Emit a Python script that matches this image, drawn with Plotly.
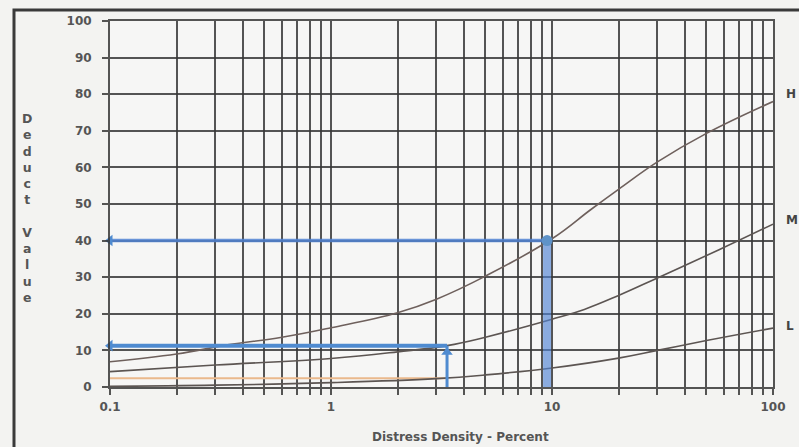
import plotly.graph_objects as go

# Deduct curves for three severity levels (x = distress density %, y = deduct value)
h_density = [0.1, 0.2, 0.34, 0.6, 1, 2, 3, 5, 10, 15, 20, 30, 50, 100]
h_deduct = [6.9, 9.0, 11.5, 13.6, 16.2, 20.3, 24.0, 30.3, 40.5, 48.5, 54.0, 61.5, 69.3, 78.0]

m_density = [0.1, 0.3, 1, 2, 3.35, 5, 10, 14, 20, 30, 57, 100]
m_deduct = [4.2, 6.0, 7.8, 9.6, 11.3, 13.6, 18.5, 21.2, 25.0, 29.8, 37.5, 44.5]

l_density = [0.1, 0.3, 1, 3, 5, 10, 20, 30, 50, 100]
l_deduct = [0.2, 0.5, 1.2, 2.3, 3.3, 5.2, 7.9, 10.0, 12.7, 16.1]

# Worked readings
read_high_density = 9.5
read_high_deduct = 40
read_med_density = 3.35
read_med_deduct = 11.3
read_low_deduct = 2.4

x_tick_vals = [0.1, 1, 10, 100]
x_tick_text = ["0.1", "1", "10", "100"]
y_tick_vals = [0, 10, 20, 30, 40, 50, 60, 70, 80, 90, 100]
minor_x = [m * 10 ** e for e in (-1, 0, 1) for m in range(2, 10)]

severity_labels = ["H", "M", "L"]
severity_label_y = [80, 45.5, 16.7]

GRID = "rgba(55,55,55,0.85)"
CURVE = "#5c5552"
BLUE = "#4f8bd0"
TEXT = "#555555"

fig = go.Figure()

# orange reading line for the low curve
fig.add_trace(go.Scatter(x=[0.1, read_med_density], y=[read_low_deduct, read_low_deduct],
                         mode="lines", line=dict(color="#eab98c", width=2),
                         hoverinfo="skip", showlegend=False))

for xs, ys, col in ((h_density, h_deduct, "#6e605c"), (m_density, m_deduct, CURVE),
                    (l_density, l_deduct, CURVE)):
    fig.add_trace(go.Scatter(x=xs, y=ys, mode="lines",
                             line=dict(color=col, width=1.6, shape="spline", smoothing=1.2),
                             hoverinfo="skip", showlegend=False))

# high-severity reading: vertical band up to curve, then across to axis
fig.add_trace(go.Scatter(x=[read_high_density, read_high_density], y=[0, read_high_deduct],
                         mode="lines", line=dict(color="rgba(80,130,210,0.65)", width=8),
                         hoverinfo="skip", showlegend=False))
fig.add_trace(go.Scatter(x=[0.1, read_high_density], y=[read_high_deduct, read_high_deduct],
                         mode="lines", line=dict(color="rgba(80,130,210,0.85)", width=3.5),
                         hoverinfo="skip", showlegend=False))
fig.add_trace(go.Scatter(x=[read_high_density], y=[read_high_deduct], mode="markers",
                         marker=dict(color="#5f93c8", size=11),
                         hoverinfo="skip", showlegend=False))

# medium-severity reading
fig.add_trace(go.Scatter(x=[read_med_density, read_med_density], y=[0, read_med_deduct],
                         mode="lines", line=dict(color=BLUE, width=3),
                         hoverinfo="skip", showlegend=False))
fig.add_trace(go.Scatter(x=[0.1, read_med_density], y=[read_med_deduct, read_med_deduct],
                         mode="lines", line=dict(color=BLUE, width=4),
                         hoverinfo="skip", showlegend=False))
fig.add_trace(go.Scatter(x=[read_med_density], y=[read_med_deduct - 1.8], mode="markers",
                         marker=dict(color=BLUE, size=10, symbol="triangle-up"),
                         hoverinfo="skip", showlegend=False))
fig.add_trace(go.Scatter(x=[0.1, 0.1], y=[read_high_deduct, read_med_deduct], mode="markers",
                         marker=dict(color=BLUE, size=10, symbol="triangle-left"),
                         cliponaxis=False, hoverinfo="skip", showlegend=False))

axis_font = dict(family="DejaVu Sans", size=12, color=TEXT, weight="bold")

fig.update_xaxes(type="log", range=[-1, 2], tickvals=x_tick_vals, ticktext=x_tick_text,
                 showgrid=True, gridcolor=GRID, gridwidth=2,
                 ticks="outside", ticklen=6, tickwidth=2, tickcolor=GRID,
                 minor=dict(tickvals=minor_x, showgrid=True, gridcolor=GRID, gridwidth=2,
                            ticks="outside", ticklen=6, tickwidth=2, tickcolor=GRID),
                 showline=True, linecolor=GRID, linewidth=2, mirror=True,
                 zeroline=False, tickfont=axis_font, ticklabelstandoff=2)
fig.update_yaxes(range=[0, 100], tickvals=y_tick_vals,
                 showgrid=True, gridcolor=GRID, gridwidth=1.6,
                 ticks="outside", ticklen=6, tickwidth=1.6, tickcolor=GRID,
                 showline=True, linecolor=GRID, linewidth=2, mirror=True,
                 zeroline=False, tickfont=axis_font, ticklabelstandoff=8)

annotations = [
    dict(text="Distress Density - Percent", xref="paper", yref="paper",
         x=0.529, y=-0.137, showarrow=False, xanchor="center", yanchor="middle",
         font=dict(family="DejaVu Sans", size=12, color=TEXT, weight="bold")),
    dict(text="<br>".join(list("Deduct")) + "<br><br>" + "<br>".join(list("Value")),
         xref="paper", yref="paper", x=-0.125, y=0.49, showarrow=False,
         xanchor="center", yanchor="middle",
         font=dict(family="DejaVu Sans", size=12.5, color=TEXT, weight="bold")),
]
for lab, yv in zip(severity_labels, severity_label_y):
    annotations.append(dict(text=lab, xref="paper", yref="y", x=1.016, y=yv,
                            showarrow=False, xanchor="left", yanchor="middle",
                            font=dict(family="DejaVu Sans", size=12, color="#444444",
                                      weight="bold")))

fig.update_layout(
    width=799, height=447,
    margin=dict(l=110, r=26, t=21, b=60),
    paper_bgcolor="#f3f3f1",
    plot_bgcolor="#f6f6f5",
    annotations=annotations,
    shapes=[dict(type="rect", xref="paper", yref="paper",
                 x0=-0.1448, x1=1.3, y0=-0.3, y1=1.030,
                 line=dict(color="#3a3a3a", width=3), layer="below")],
)

fig.write_html("out.html")
